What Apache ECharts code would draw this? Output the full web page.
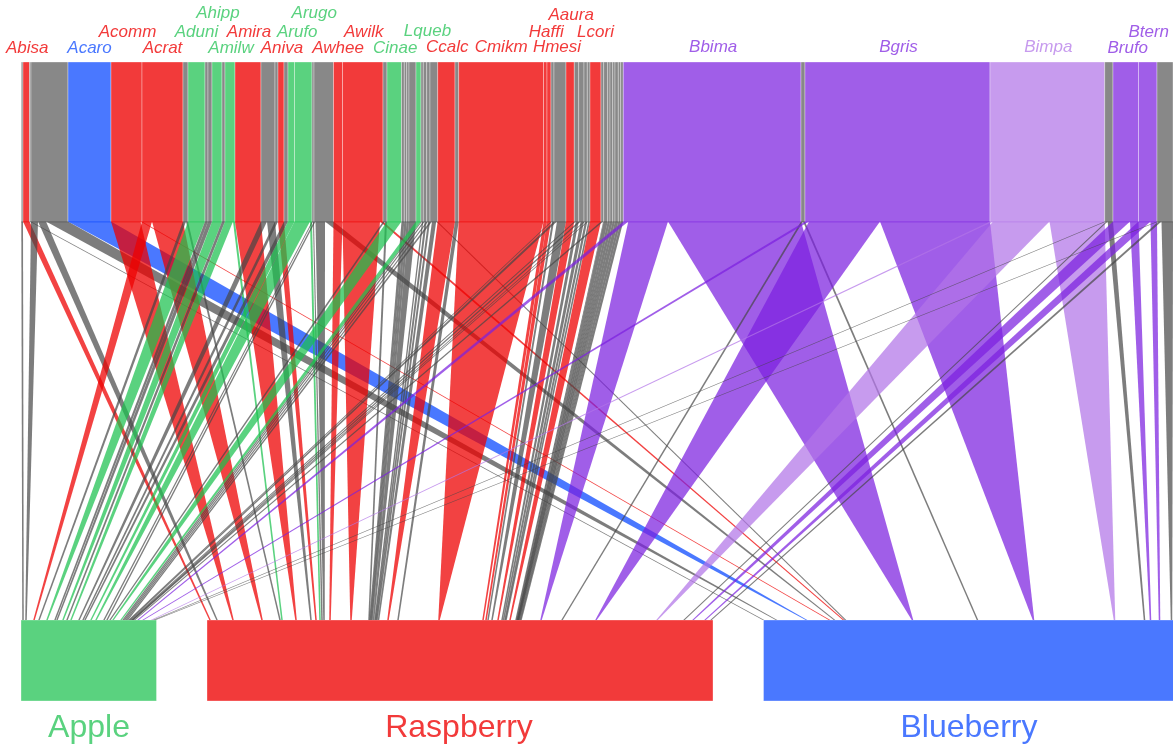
<!DOCTYPE html>
<html>
<head>
<meta charset="utf-8">
<script src="https://cdn.jsdelivr.net/npm/echarts@6/dist/echarts.min.js"></script>
<style>html,body{margin:0;padding:0;background:#fff}#c{width:1173px;height:746px}</style>
</head>
<body>
<div id="c"></div>
<script>
const plants = ['Apple', 'Raspberry', 'Blueberry'];
const plantSizes = [135.5, 506, 410];
const plantGroups = ['green', 'red', 'blue'];

const species = ['', 'Abisa', '', '', 'Acaro', 'Acomm', 'Acrat', '', 'Aduni', '', '', 'Ahipp', '', 'Amilw', 'Amira', '', '', 'Aniva', '', 'Arufo', 'Arugo', '', '', 'Awhee', 'Awilk', '', 'Cinae', '', '', '', '', 'Lqueb', '', '', '', '', 'Ccalc', '', 'Cmikm', 'Haffi', 'Hmesi', '', '', 'Aaura', '', '', '', '', 'Lcori', '', '', '', '', '', '', '', '', 'Bbima', '', 'Bgris', 'Bimpa', '', 'Brufo', 'Btern', ''];
const speciesGroup = ['gray','red','gray','gray','blue','red','red','gray','green','gray','gray','green','gray','green','red','gray','gray','red','gray','green','green','gray','gray','red','red','gray','green','gray','gray','gray','gray','green','gray','gray','gray','gray','red','gray','red','red','red','gray','gray','red','gray','gray','gray','gray','red','gray','gray','gray','gray','gray','gray','gray','gray','purple','gray','purple','lilac','gray','purple','purple','gray'];

// upper-level interaction size of each species with each plant
const toApple = [1.7,0,0,7,0,0,10,3,17,3,4,10,3,8,0,6,3,0,4,6.5,15.5,1,1.5,0,0,2,14.5,0,0,0,0,5,1,1.4,1.3,2,0,0,0,0,0,1,3,0,1.4,2,1,1,0,2.2,0,0,0,0,0,0,0,5,0,4,3,1.5,0,0,1.5];
const toRaspberry = [0,6.5,0,8,0,29.5,31,2,0,0,0,0,0,2,26,8,0,6,0,0,2,1,9.5,9,37.5,2,0,2.8,2.4,2.3,7,0,1.3,2,2,4.2,17.3,3.7,84.8,3.5,4,2,9,8.3,3,3.3,2.3,1.7,11,0.5,4,2.3,2.7,2.3,3.3,2.4,2.6,39.7,2,71,56.5,1.5,17,12,3];
const toBlueberry = [0,0,1.5,22,43,1.5,0,0,0,0,0,0,0,0,0,0,0,0,0,0,0,0,8.5,0,3,0,0,0,0,0,0,0,0,0,0,1.5,0,0,0,0,0,0,0,0,0,0,0,0,0,0,0,0,0,0,0,0,0,133,2,110,55.2,5.3,8.5,6.5,11.5];

// lower-level step along each plant's bar before that species' link lands
const lowApple = [2,0,0,3,0,0,8,5,8,8,2,6,4,4,0,8,4,0,2,6,5,8,3,0,0,3,3,0,0,0,0,8,2,1.5,1.5,1.5,0,0,0,0,0,1.5,1,0,1,1,0.5,0.5,0,1.5,0,0,0,0,0,0,0,3.5,0,5,8.5,2,0,0,1.5];
const lowRaspberry = [0,3,0,7,0,16,29,18,0,0,0,0,0,2,14,15,0,5,0,0,4,2,2,6,21,18,0,1,1,1,1.5,0,1.5,1,1,1.5,9.5,10,41,44,3,2,4,6,4,1.5,1.5,1,4,6,1,0.5,0.5,0.5,0.5,1,1,20,21,34,61,27,9,12,6];
const lowBlueberry = [0,0,0,13,0,0,0,0,0,0,0,0,0,0,0,0,0,0,0,0,0,0,0,0,0,0,0,0,0,0,0,0,0,0,0,0,0,0,0,0,0,0,0,0,0,0,0,0,0,0,0,0,0,0,0,0,0,0,0,0,0,0,0,0,0];
[[4,30],[5,23],[22,5],[24,9],[35,2],[57,67],[58,65],[59,56],[60,81],[61,30],[62,6],[63,9],[64,12]].forEach(function (p) { lowBlueberry[p[0]] = p[1]; });

const solid = {gray:'#888888', red:'#F23A3A', green:'#5AD27F', blue:'#4A78FF', purple:'#A05EE8', lilac:'#C79BEE'};
const flow = {gray:'rgba(70,70,70,0.7)', red:'rgba(237,0,0,0.74)', green:'rgba(26,193,78,0.72)', blue:'rgba(4,68,255,0.72)', purple:'rgba(123,32,223,0.72)', lilac:'rgba(178,117,232,0.72)'};

const Y = {topHead:62, topFoot:222.5, linkTop:221.5, linkFoot:620, lowHead:620, lowFoot:701};
const AX0 = 21.3, BX0 = 21, PLANT_GAP = 50.5, TIP = 1.5;
// name: [x shift from the species centre, label centre y]
const labelPlace = {Abisa:[1,48],Acaro:[0,48],Acomm:[1,32],Acrat:[0,48],Aduni:[0,32],Ahipp:[1,13],Amilw:[1,48],Amira:[1,32],Aniva:[1,48],Arufo:[6,32],Arugo:[11,13],Awhee:[0,48],Awilk:[1,32],Cinae:[1,48],Lqueb:[9,31],Ccalc:[1,47],Cmikm:[0,47],Haffi:[1,32],Hmesi:[8,47],Aaura:[1,15],Lcori:[0,32],Bbima:[1,47],Bgris:[1,47],Bimpa:[1,47],Brufo:[2,48],Btern:[1,32]};

const items = [];
const flows = [toApple, toRaspberry, toBlueberry];
const lows = [lowApple, lowRaspberry, lowBlueberry];
const plantStart = [];
(function () { let x = BX0; plantSizes.forEach(function (w) { plantStart.push(x); x += w + PLANT_GAP; }); })();
const tipCursor = plantStart.slice();
const links = [];
let cx = AX0;
species.forEach(function (name, i) {
  const total = toApple[i] + toRaspberry[i] + toBlueberry[i];
  items.push(['rect', cx, cx + total, Y.topHead, Y.topFoot, speciesGroup[i]]);
  if (name && labelPlace[name]) {
    items.push(['text', cx + total / 2 + labelPlace[name][0], labelPlace[name][1], name, speciesGroup[i], 17]);
  }
  let ux = cx;
  for (let p = 0; p < 3; p++) {
    const w = flows[p][i];
    if (w > 0) {
      tipCursor[p] += lows[p][i];
      links.push(['link', ux, ux + w, tipCursor[p] - TIP / 2, tipCursor[p] + TIP / 2, speciesGroup[i]]);
      ux += w;
    }
  }
  cx += total;
});
plants.forEach(function (name, p) {
  items.push(['rect', plantStart[p], plantStart[p] + plantSizes[p], Y.lowHead, Y.lowFoot, plantGroups[p]]);
});
items.push(['text', 89, 728.5, 'Apple', 'green', 32]);
items.push(['text', 459, 728.5, 'Raspberry', 'red', 32]);
items.push(['text', 969, 728.5, 'Blueberry', 'blue', 32]);
const marks = items.filter(function (d) { return d[0] === 'rect'; }).concat(links).concat(items.filter(function (d) { return d[0] === 'text'; }));

function renderItem(params, api) {
  const d = marks[params.dataIndex];
  if (d[0] === 'rect') {
    const a = api.coord([d[1], d[3]]), b = api.coord([d[2], d[4]]);
    return {type:'rect', shape:{x:a[0], y:a[1], width:b[0]-a[0], height:b[1]-a[1]},
      style:{fill:solid[d[5]], stroke:'rgba(255,255,255,0.55)', lineWidth:0.6}};
  }
  if (d[0] === 'link') {
    const pts = [[d[1],Y.linkTop],[d[2],Y.linkTop],[d[4],Y.linkFoot],[d[3],Y.linkFoot]].map(function (p) { return api.coord(p); });
    return {type:'polygon', shape:{points:pts}, style:{fill:flow[d[5]]}};
  }
  const c = api.coord([d[1], d[2]]);
  return {type:'text', x:c[0], y:c[1], style:{text:d[3], fill:solid[d[4]],
    font:(d[5] === 17 ? 'italic ' : '') + d[5] + 'px "Liberation Sans", Arial, sans-serif',
    align:'center', verticalAlign:'middle'}};
}

const chart = echarts.init(document.getElementById('c'), null, {renderer:'canvas', width:1173, height:746});
chart.setOption({
  animation:false,
  backgroundColor:'#fff',
  grid:{left:0, right:0, top:0, bottom:0},
  xAxis:{type:'value', min:0, max:1173, show:false},
  yAxis:{type:'value', min:0, max:746, inverse:true, show:false},
  series:[{type:'custom', silent:true, clip:false, coordinateSystem:'cartesian2d',
    data:marks.map(function (d, i) { return [d[1], i]; }), renderItem:renderItem}]
});
</script>
</body>
</html>
